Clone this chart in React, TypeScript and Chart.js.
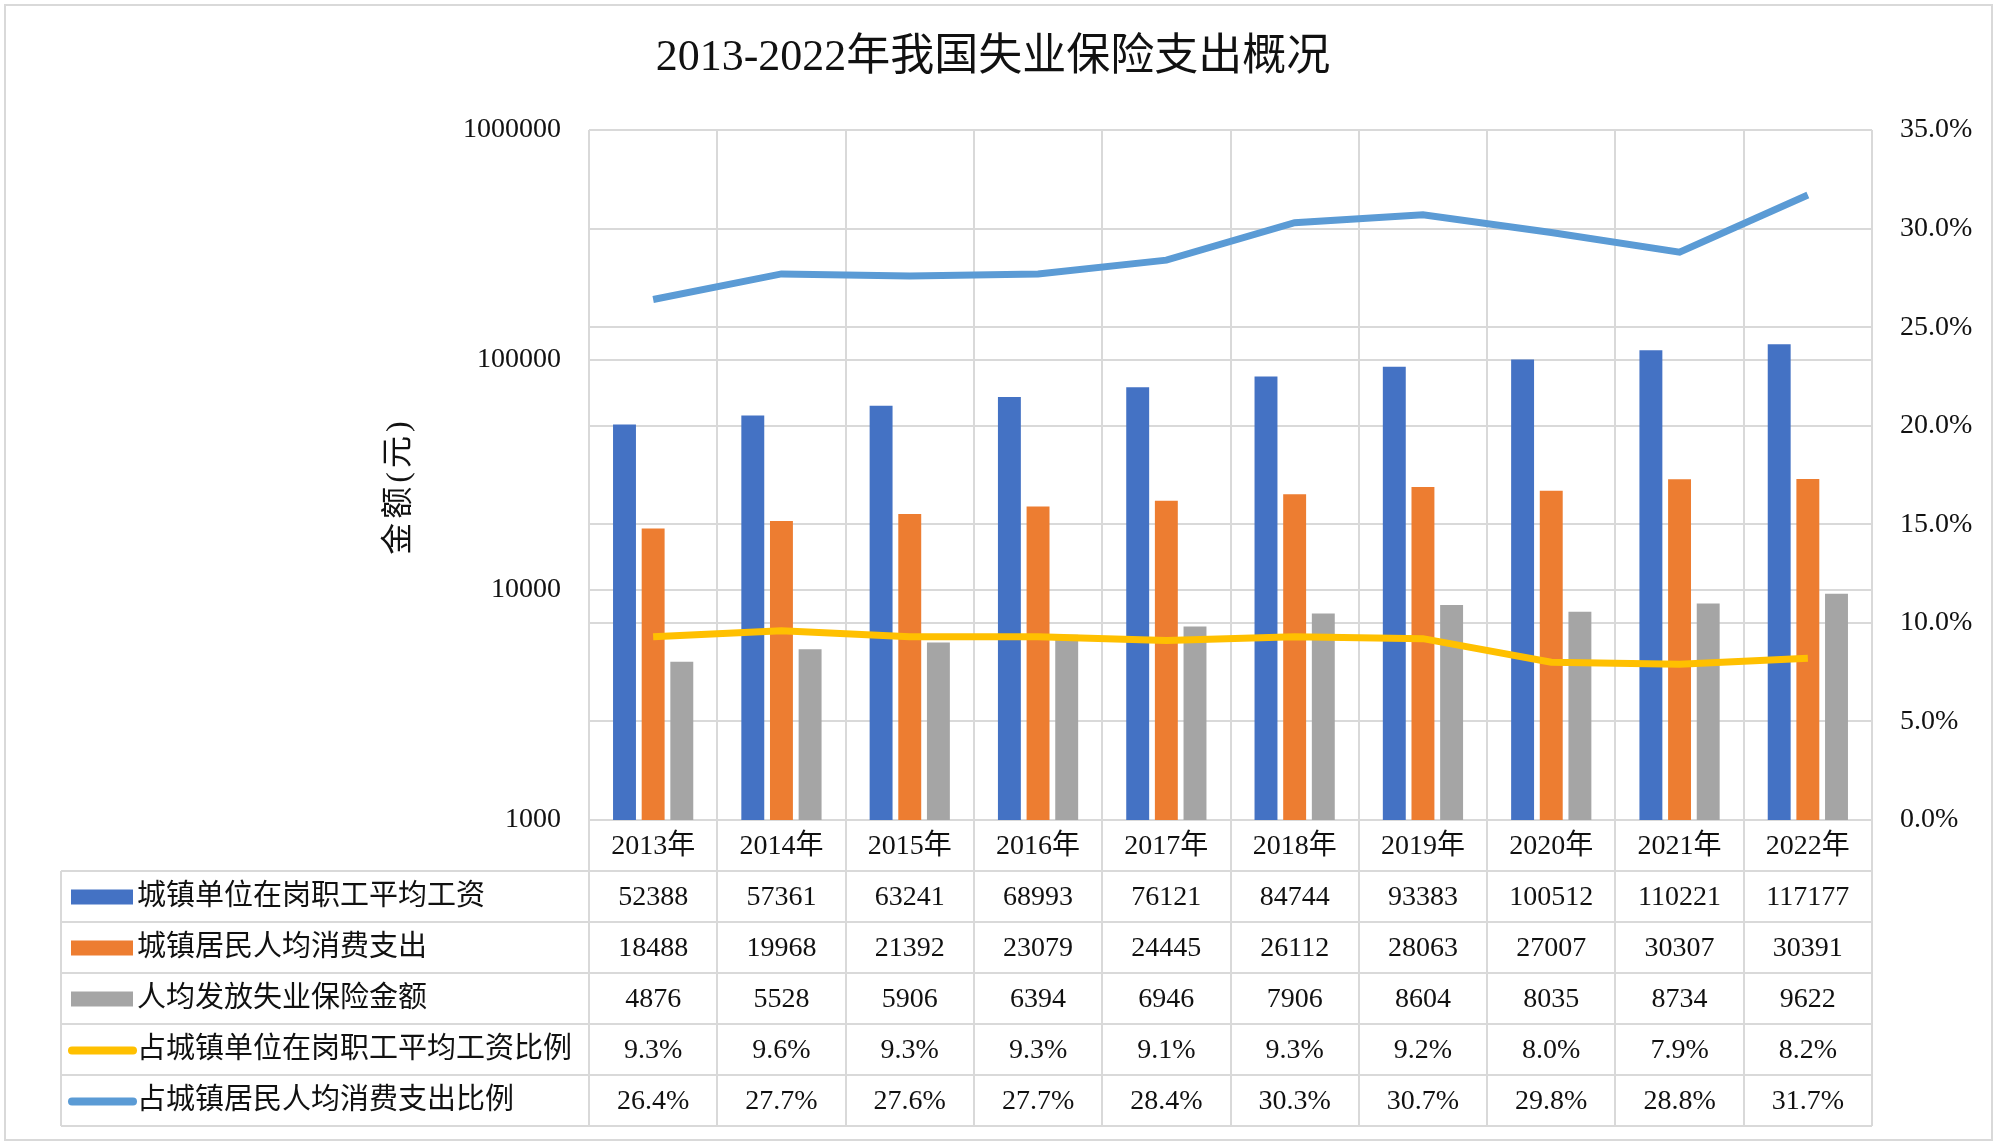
import React, { useEffect, useRef } from 'react';
import { Chart, registerables } from 'chart.js';

Chart.register(...registerables);

const categories = ['2013年', '2014年', '2015年', '2016年', '2017年', '2018年', '2019年', '2020年', '2021年', '2022年'];
const wages = [52388, 57361, 63241, 68993, 76121, 84744, 93383, 100512, 110221, 117177];
const consumption = [18488, 19968, 21392, 23079, 24445, 26112, 28063, 27007, 30307, 30391];
const benefit = [4876, 5528, 5906, 6394, 6946, 7906, 8604, 8035, 8734, 9622];
const ratioWage = [9.3, 9.6, 9.3, 9.3, 9.1, 9.3, 9.2, 8.0, 7.9, 8.2];
const ratioConsumption = [26.4, 27.7, 27.6, 27.7, 28.4, 30.3, 30.7, 29.8, 28.8, 31.7];
const leftTicks = [1000, 10000, 100000, 1000000];
const rightMin = 0;
const rightMax = 35;
const rightStep = 5;
const seriesNames = ['城镇单位在岗职工平均工资', '城镇居民人均消费支出', '人均发放失业保险金额', '占城镇单位在岗职工平均工资比例', '占城镇居民人均消费支出比例'];
const titleText = '2013-2022年我国失业保险支出概况';
const yTitleText = '金额(元)';

const COLORS = ['#4472C4', '#ED7D31', '#A5A5A5', '#FFC000', '#5B9BD5'];
const GRID = '#D9D9D9';
const FONT = '"Liberation Serif", "Noto Sans CJK SC", serif';
const TEXT = '#111111';

const W = 1999;
const H = 1143;
const ROW_H = 51;

const tablePlugin = {
  id: 'tablePlugin',
  beforeDraw(chart: any) {
    const ctx = chart.ctx;
    ctx.save();
    ctx.fillStyle = '#ffffff';
    ctx.fillRect(0, 0, W, H);
    ctx.strokeStyle = GRID;
    ctx.lineWidth = 2;
    ctx.strokeRect(5, 5, W - 12, H - 8);
    ctx.restore();
  },
  beforeDatasetsDraw(chart: any) {
    const ctx = chart.ctx;
    const x = chart.scales.x;
    const area = chart.chartArea;
    const n = categories.length;
    const tableTop = area.bottom + ROW_H;
    const tableBottom = tableTop + ROW_H * seriesNames.length;
    const tableLeft = 61;
    ctx.save();
    ctx.strokeStyle = GRID;
    ctx.lineWidth = 2;
    ctx.beginPath();
    for (let i = 0; i <= n; i++) {
      const px = Math.round(x.getPixelForValue(i - 0.5));
      ctx.moveTo(px, area.top);
      ctx.lineTo(px, tableBottom);
    }
    for (let r = 0; r <= seriesNames.length; r++) {
      const py = tableTop + r * ROW_H;
      ctx.moveTo(tableLeft, py);
      ctx.lineTo(area.right, py);
    }
    ctx.moveTo(tableLeft, tableTop);
    ctx.lineTo(tableLeft, tableBottom);
    ctx.stroke();
    ctx.restore();
  },
  afterDraw(chart: any) {
    const ctx = chart.ctx;
    const x = chart.scales.x;
    const area = chart.chartArea;
    const tableTop = area.bottom + ROW_H;
    ctx.save();
    ctx.fillStyle = TEXT;
    // title
    ctx.font = `44px ${FONT}`;
    ctx.textAlign = 'center';
    ctx.textBaseline = 'middle';
    ctx.fillText(titleText, 993, 58);
    // y title
    ctx.save();
    ctx.translate(400, 488);
    ctx.rotate(-Math.PI / 2);
    ctx.font = `32px ${FONT}`;
    try { (ctx as any).letterSpacing = '4px'; } catch (e) {}
    ctx.fillText(yTitleText, 2, 0);
    try { (ctx as any).letterSpacing = '0px'; } catch (e) {}
    ctx.restore();
    // categories
    ctx.font = `28px ${FONT}`;
    categories.forEach((c, i) => {
      ctx.fillText(c, x.getPixelForValue(i), area.bottom + ROW_H / 2 + 1);
    });
    // table
    const rows = [wages, consumption, benefit, ratioWage, ratioConsumption];
    rows.forEach((vals, r) => {
      const cy = tableTop + r * ROW_H + ROW_H / 2 + 1;
      ctx.font = `28px ${FONT}`;
      vals.forEach((v, i) => {
        const s = r < 3 ? String(v) : v.toFixed(1) + '%';
        ctx.textAlign = 'center';
        ctx.fillText(s, x.getPixelForValue(i), cy);
      });
      // swatch
      if (r < 3) {
        ctx.fillStyle = COLORS[r];
        ctx.fillRect(71, cy - 8, 62, 15);
      } else {
        ctx.strokeStyle = COLORS[r];
        ctx.lineWidth = 8;
        ctx.lineCap = 'round';
        ctx.beginPath();
        ctx.moveTo(72, cy);
        ctx.lineTo(133, cy);
        ctx.stroke();
      }
      ctx.fillStyle = TEXT;
      ctx.textAlign = 'left';
      ctx.font = `29px ${FONT}`;
      ctx.fillText(seriesNames[r], 137, cy);
    });
    ctx.restore();
  },
};

export default function App() {
  const ref = useRef<HTMLCanvasElement | null>(null);
  useEffect(() => {
    document.body.style.margin = '0';
    document.body.style.overflow = 'hidden';
    if (!ref.current) return;
    const chart = new Chart(ref.current, {
      type: 'bar',
      data: {
        labels: categories,
        datasets: [
          {
            type: 'line',
            label: seriesNames[3],
            data: ratioWage,
            yAxisID: 'y1',
            borderColor: COLORS[3],
            backgroundColor: COLORS[3],
            borderWidth: 7,
            pointRadius: 0,
            tension: 0,
            order: 0,
          } as any,
          {
            type: 'line',
            label: seriesNames[4],
            data: ratioConsumption,
            yAxisID: 'y1',
            borderColor: COLORS[4],
            backgroundColor: COLORS[4],
            borderWidth: 7,
            pointRadius: 0,
            tension: 0,
            order: 0,
          } as any,
          {
            type: 'bar',
            label: seriesNames[0],
            data: wages,
            yAxisID: 'y',
            backgroundColor: COLORS[0],
            categoryPercentage: 0.67,
            barPercentage: 0.8,
            order: 1,
          },
          {
            type: 'bar',
            label: seriesNames[1],
            data: consumption,
            yAxisID: 'y',
            backgroundColor: COLORS[1],
            categoryPercentage: 0.67,
            barPercentage: 0.8,
            order: 1,
          },
          {
            type: 'bar',
            label: seriesNames[2],
            data: benefit,
            yAxisID: 'y',
            backgroundColor: COLORS[2],
            categoryPercentage: 0.67,
            barPercentage: 0.8,
            order: 1,
          },
        ],
      },
      options: {
        responsive: false,
        animation: false,
        devicePixelRatio: 1,
        layout: { padding: { left: 0, right: 0, top: 130, bottom: H - 820 } },
        plugins: {
          legend: { display: false },
          title: { display: false },
          tooltip: { enabled: false },
        },
        scales: {
          x: {
            type: 'category',
            offset: true,
            display: false,
            grid: { display: false },
          },
          y: {
            type: 'logarithmic',
            position: 'left',
            min: 1000,
            max: 1000000,
            afterBuildTicks: (scale: any) => {
              scale.ticks = leftTicks.map((v) => ({ value: v }));
            },
            afterFit: (scale: any) => {
              scale.width = 589;
            },
            border: { display: false },
            grid: { color: GRID, lineWidth: 2, drawTicks: false },
            ticks: {
              padding: 28,
              color: TEXT,
              font: { family: FONT, size: 28 },
              callback: (v: any) => String(v),
            },
          },
          y1: {
            type: 'linear',
            position: 'right',
            min: rightMin,
            max: rightMax,
            afterFit: (scale: any) => {
              scale.width = W - 1872;
            },
            border: { display: false },
            grid: { color: GRID, lineWidth: 2, drawTicks: false },
            ticks: {
              stepSize: rightStep,
              padding: 28,
              color: TEXT,
              font: { family: FONT, size: 28 },
              callback: (v: any) => Number(v).toFixed(1) + '%',
            },
          },
        },
      },
      plugins: [tablePlugin],
    } as any);
    return () => chart.destroy();
  }, []);
  return <canvas ref={ref} width={W} height={H} style={{ display: 'block', width: W, height: H }} />;
}
